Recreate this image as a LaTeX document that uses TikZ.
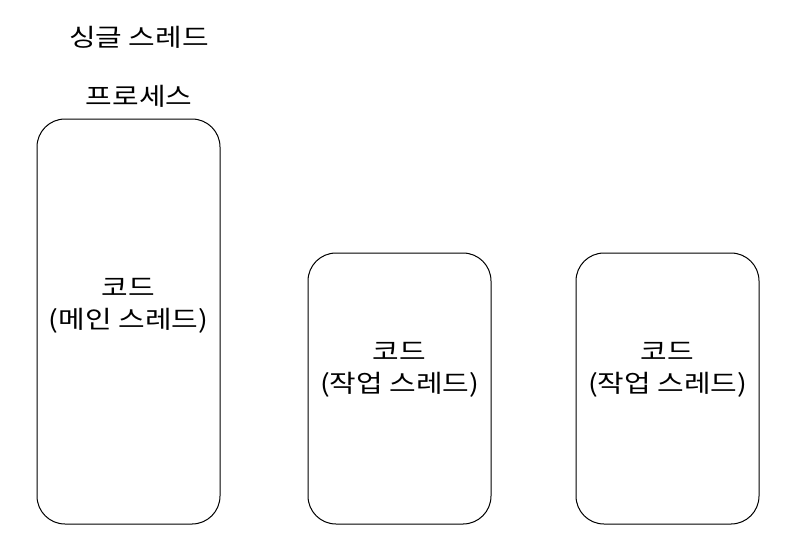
\documentclass[tikz,border=0pt]{standalone}
\usepackage{fontspec}
\setmainfont{Noto Sans CJK KR}[FakeStretch=1.18]
\begin{document}
\begin{tikzpicture}[x=1pt,y=-1pt,
  procbox/.style={draw=black,line width=1pt,rounded corners=28pt,fill=white},
  lbl/.style={font=\fontsize{24.5}{32}\selectfont,text=black,inner sep=0pt,align=center}]
\useasboundingbox[fill=white] (0,0) rectangle (791,552);
\draw[procbox] (37,119) rectangle (220,524);
\draw[procbox] (308,253) rectangle (491,524);
\draw[procbox] (576,253) rectangle (759,524);
\node[lbl] (title) at (139,37) {싱글 스레드};
\node[lbl] (proc) at (139,96) {프로세스};
\node[lbl] (c1) at (128.5,306) {코드\\(메인 스레드)};
\node[lbl] (c2) at (399.5,370) {코드\\(작업 스레드)};
\node[lbl] (c3) at (667.5,370) {코드\\(작업 스레드)};
\end{tikzpicture}
\end{document}
